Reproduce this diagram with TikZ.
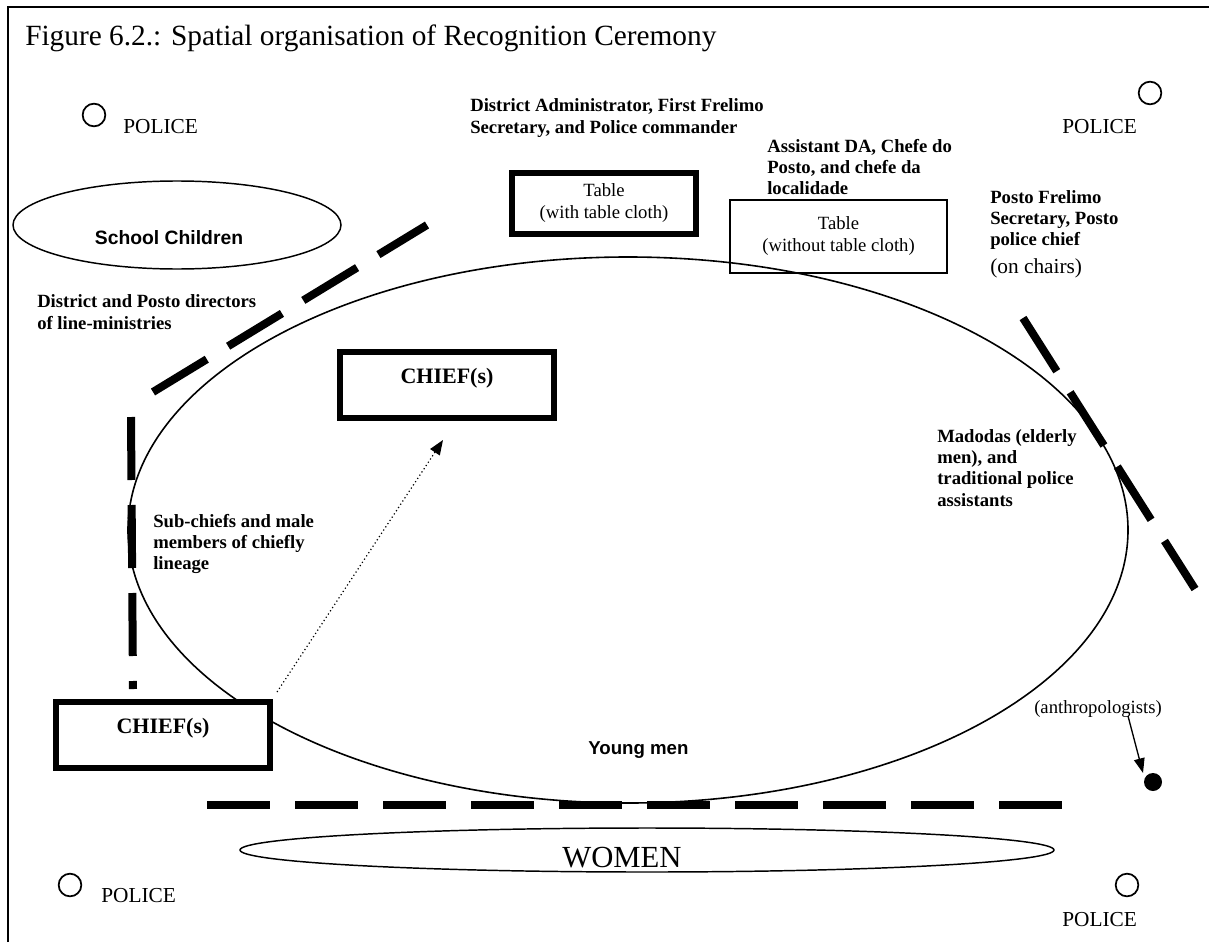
\documentclass[tikz,border=0pt]{standalone}
\usepackage{fontspec}
\setmainfont{Liberation Serif}
\newfontfamily\arialf{Liberation Sans}
\usetikzlibrary{arrows.meta,shapes.geometric}
\begin{document}
\begin{tikzpicture}[x=0.75pt,y=-0.75pt,
  lbl/.style={font=\fontsize{14}{16}\selectfont\bfseries, align=left, anchor=base west, inner sep=0pt},
  plain/.style={font=\fontsize{14}{16.5}\selectfont, align=center, inner sep=0pt},
  police/.style={font=\fontsize{16}{18}\selectfont, anchor=base west, inner sep=0pt},
  guard/.style={circle, draw, line width=1.3pt, minimum size=17pt, inner sep=0pt},
  chiefbox/.style={draw, line width=4.5pt, fill=white, rectangle, font=\fontsize{16.5}{18}\selectfont\bfseries, text height=12pt, text depth=15pt, inner sep=0pt},
  barrier/.style={line width=6pt, dash pattern=on 47.25pt off 18.75pt, line cap=butt},
  ring/.style={ellipse, draw, line width=1.1pt, inner sep=0pt}
]
\useasboundingbox (0,0) rectangle (1209,942);
\fill[white] (0,0) rectangle (1209,942);

% frame
\draw[line width=1.2pt] (8,942) -- (8,7) -- (1209,7);

% title
\node[anchor=base west, inner sep=0pt, font=\fontsize{22}{24}\selectfont] (title) at (25,46) {Figure 6.2.: Spatial organisation of Recognition Ceremony};

% big arena ellipse
\node[ring, line width=1.2pt, minimum width=750pt, minimum height=409.5pt] (arena) at (628,530) {};

% police
\node[guard] (p1) at (94,115) {};
\node[police] (p1t) at (123,133) {POLICE};
\node[guard] (p2) at (1150,93) {};
\node[police] (p2t) at (1062,133) {POLICE};
\node[guard] (p3) at (70,885) {};
\node[police] (p3t) at (101,902) {POLICE};
\node[guard] (p4) at (1127,885) {};
\node[police] (p4t) at (1062,926) {POLICE};

% officials (base anchor = baseline of last line)
\node[lbl] (da) at (470,133.3) {District Administrator, First Frelimo\\Secretary, and Police commander};
\node[draw, line width=4.5pt, minimum width=138pt, minimum height=45.5pt, plain] (table1) at (604,203.5) {Table\\(with table cloth)};
\node[lbl] (ada) at (767,194.7) {Assistant DA, Chefe do\\Posto, and chefe da\\localidade};
\node[draw, line width=1.1pt, minimum width=162.75pt, minimum height=54.75pt, plain] (table2) at (838.5,236.5) {Table\\(without table cloth)};
\node[lbl] (posto) at (990,245.7) {Posto Frelimo\\Secretary, Posto\\police chief};
\node[anchor=base west, inner sep=0pt, font=\fontsize{16}{18}\selectfont] (chairs) at (990,273) {(on chairs)};

% school children
\node[ring, line width=1.1pt, minimum width=246pt, minimum height=66pt] (school) at (177,225) {};
\node[anchor=base, inner sep=0pt, font=\arialf\bfseries\fontsize{14.5}{16}\selectfont] (schoolt) at (169,244) {School Children};

\node[lbl] (dirs) at (37,329.3) {District and Posto directors\\of line-ministries};

% chiefs
\node[chiefbox, minimum width=160pt, minimum height=50pt] (chiefA) at (447,385) {CHIEF(s)};
\node[lbl] (sub) at (153,569.7) {Sub-chiefs and male\\members of chiefly\\lineage};
\node[lbl] (mad) at (937,506) {Madodas (elderly\\men), and\\traditional police\\assistants};

% barriers
\coordinate (b1s) at (153,392); \coordinate (b1e) at (427,225);
\draw[barrier] (b1s) -- (b1e);
\coordinate (b2s) at (131,417); \coordinate (b2e) at (133,689);
\draw[barrier] (b2s) -- (b2e);
\coordinate (b3s) at (1023,318); \coordinate (b3e) at (1195,589);
\draw[barrier] (b3s) -- (b3e);
\coordinate (b4s) at (207,805); \coordinate (b4e) at (1063,805);
\draw[barrier] (b4s) -- (b4e);

% lower chief box (covers arena line)
\node[chiefbox, minimum width=160pt, minimum height=50pt] (chiefB) at (163,735) {CHIEF(s)};

% dotted arrow
\coordinate (arrS) at (277,692);
\coordinate (arrE) at (443,440);
\draw[dotted, line width=0.9pt, -{Triangle[length=11pt,width=8.5pt]}] (arrS) -- (arrE);

% young men
\node[anchor=base west, inner sep=0pt, font=\arialf\bfseries\fontsize{14}{16}\selectfont] (young) at (588,754) {Young men};

% anthropologists
\node[anchor=base west, inner sep=0pt, font=\fontsize{14}{16}\selectfont] (anth) at (1034,713) {(anthropologists)};
\node[circle, fill=black, minimum size=13.5pt, inner sep=0pt] (dot) at (1153,782) {};
\coordinate (anthS) at (1128,716);
\draw[line width=1pt, -{Triangle[length=11pt,width=8pt]}] (anthS) -- (1143,773);

% women
\node[ring, line width=1.1pt, minimum width=610.5pt, minimum height=33pt] (women) at (647,850) {};
\node[anchor=base, inner sep=0pt, font=\fontsize{23}{25}\selectfont] (womt) at (622,867) {WOMEN};

\end{tikzpicture}
\end{document}
